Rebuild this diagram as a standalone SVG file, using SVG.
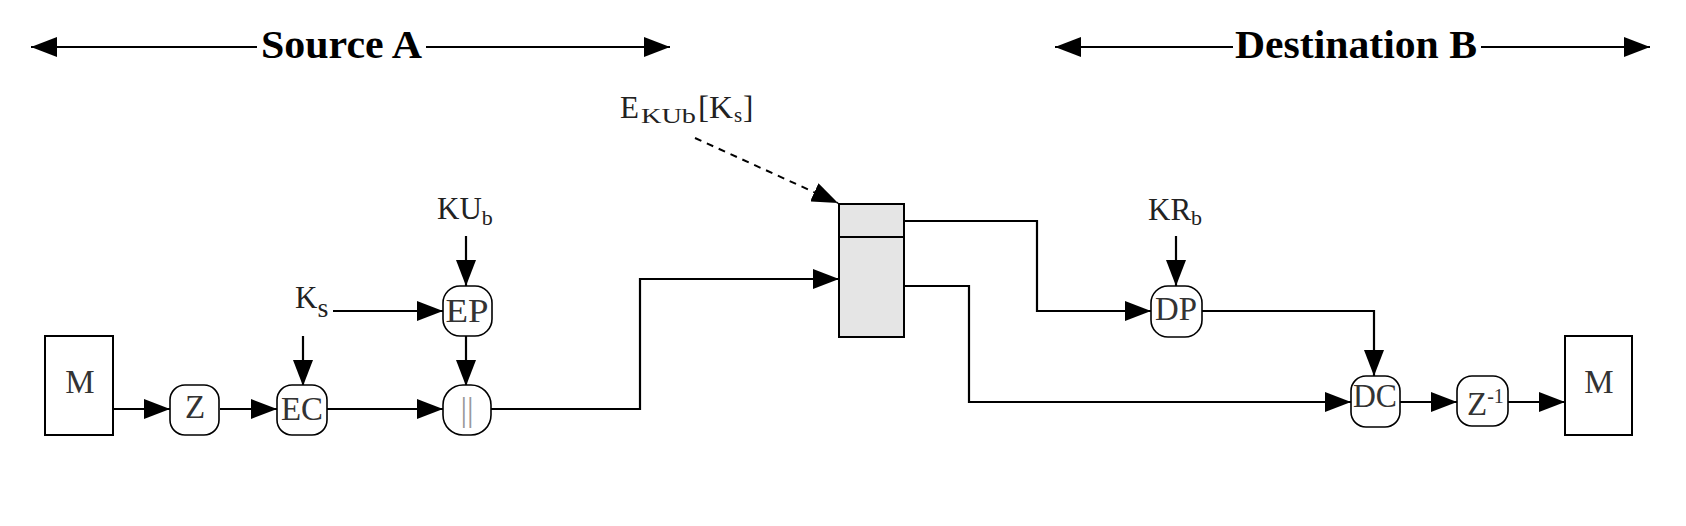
<svg xmlns="http://www.w3.org/2000/svg" width="1686" height="526" viewBox="0 0 1686 526">
<style>
.conn{fill:none;stroke:#000;stroke-width:2.2}
.dash{fill:none;stroke:#000;stroke-width:2;stroke-dasharray:7 6}
.node{fill:#fff;stroke:#000;stroke-width:1.6}
.box{fill:#fff;stroke:#000;stroke-width:2}
.gbox{fill:#e5e5e5;stroke:#000;stroke-width:2}
.nt{font-family:"Liberation Serif","Times New Roman",serif;font-size:33px;fill:#333;text-anchor:middle}
.lb{font-family:"Liberation Serif","Times New Roman",serif;font-size:31px;fill:#222}
.sub{font-size:21px}
.title{font-family:"Liberation Serif","Times New Roman",serif;font-size:40px;font-weight:bold;fill:#000}
</style>
<defs>
<marker id="arr" markerUnits="userSpaceOnUse" markerWidth="26" markerHeight="20" refX="26" refY="10" orient="auto">
<path d="M0,0 L26,10 L0,20 Z" fill="#000"/>
</marker>
<marker id="tarr" markerUnits="userSpaceOnUse" markerWidth="26" markerHeight="20" refX="26" refY="10" orient="auto-start-reverse">
<path d="M0,0 L26,10 L0,20 Z" fill="#000"/>
</marker>
</defs>

<g id="titles">
<line x1="31" y1="47" x2="257" y2="47" stroke="#000" stroke-width="2" marker-start="url(#tarr)"/>
<text class="title" x="261" y="58" textLength="161" lengthAdjust="spacingAndGlyphs">Source A</text>
<line x1="426" y1="47" x2="670" y2="47" stroke="#000" stroke-width="2" marker-end="url(#tarr)"/>
<line x1="1055" y1="47" x2="1233" y2="47" stroke="#000" stroke-width="2" marker-start="url(#tarr)"/>
<text class="title" x="1235" y="58" textLength="242" lengthAdjust="spacingAndGlyphs">Destination B</text>
<line x1="1481" y1="47" x2="1650" y2="47" stroke="#000" stroke-width="2" marker-end="url(#tarr)"/>
</g>

<g id="connectors">
<path class="conn" d="M113,409 H170" marker-end="url(#arr)"/>
<path class="conn" d="M220,409 H277" marker-end="url(#arr)"/>
<path class="conn" d="M333,311 H443" marker-end="url(#arr)"/>
<path class="conn" d="M303,336 V386" marker-end="url(#arr)"/>
<path class="conn" d="M466,236 V286" marker-end="url(#arr)"/>
<path class="conn" d="M466,336 V386" marker-end="url(#arr)"/>
<path class="conn" d="M327,409 H443" marker-end="url(#arr)"/>
<path class="conn" d="M491,409 H640 V279 H839" marker-end="url(#arr)"/>
<path class="dash" d="M695,138 L838,203" marker-end="url(#arr)"/>
<path class="conn" d="M904,221 H1037 V311 H1151" marker-end="url(#arr)"/>
<path class="conn" d="M1176,236 V286" marker-end="url(#arr)"/>
<path class="conn" d="M1202,311 H1374 V376" marker-end="url(#arr)"/>
<path class="conn" d="M904,286 H969 V402 H1351" marker-end="url(#arr)"/>
<path class="conn" d="M1400,402 H1457" marker-end="url(#arr)"/>
<path class="conn" d="M1508,402 H1565" marker-end="url(#arr)"/>
</g>

<g id="M_src">
<rect class="box" x="45" y="336" width="68" height="99"/>
<text class="nt" x="80" y="393">M</text>
</g>
<g id="Z">
<rect class="node" x="170" y="385" width="49" height="50" rx="15"/>
<text class="nt" x="195" y="418">Z</text>
</g>
<g id="EC">
<rect class="node" x="277" y="385" width="50" height="50" rx="15"/>
<text class="nt" x="302" y="420" textLength="42" lengthAdjust="spacingAndGlyphs">EC</text>
</g>
<g id="EP">
<rect class="node" x="443" y="286" width="49" height="50" rx="17"/>
<text class="nt" x="467" y="322" textLength="43" lengthAdjust="spacingAndGlyphs">EP</text>
</g>
<g id="concat">
<rect class="node" x="443" y="385" width="48" height="50" rx="20"/>
<text class="nt" x="467" y="421" style="fill:#999">||</text>
</g>
<g id="Ks">
<text class="lb" x="295" y="308">K<tspan font-size="28" dy="9">s</tspan></text>
</g>
<g id="KUb">
<text class="lb" x="437" y="219">KU<tspan font-size="22" dy="6">b</tspan></text>
</g>
<g id="EKUb">
<text class="lb" x="620" y="118" font-size="30">E</text>
<text class="lb sub" x="641" y="123" textLength="55" lengthAdjust="spacingAndGlyphs">KUb</text>
<text class="lb" x="698" y="118" font-size="30" textLength="35" lengthAdjust="spacingAndGlyphs">[K</text>
<text class="lb sub" x="734" y="122">s</text>
<text class="lb" x="743" y="118" font-size="30">]</text>
</g>
<g id="packet">
<rect class="gbox" x="839" y="204" width="65" height="133"/>
<line x1="839" y1="237" x2="904" y2="237" stroke="#000" stroke-width="2"/>
</g>
<g id="KRb">
<text class="lb" x="1148" y="220">KR<tspan font-size="22" dy="5">b</tspan></text>
</g>
<g id="DP">
<rect class="node" x="1151" y="286" width="51" height="51" rx="17"/>
<text class="nt" x="1176" y="320" textLength="42" lengthAdjust="spacingAndGlyphs">DP</text>
</g>
<g id="DC">
<rect class="node" x="1351" y="376" width="49" height="51" rx="15"/>
<text class="nt" x="1375" y="407" textLength="44" lengthAdjust="spacingAndGlyphs">DC</text>
</g>
<g id="Zinv">
<rect class="node" x="1457" y="376" width="51" height="50" rx="15"/>
<text class="nt" x="1467" y="415" style="text-anchor:start">Z<tspan font-size="20" dy="-12">-1</tspan></text>
</g>
<g id="M_dst">
<rect class="box" x="1565" y="336" width="67" height="99"/>
<text class="nt" x="1599" y="393">M</text>
</g>
</svg>
